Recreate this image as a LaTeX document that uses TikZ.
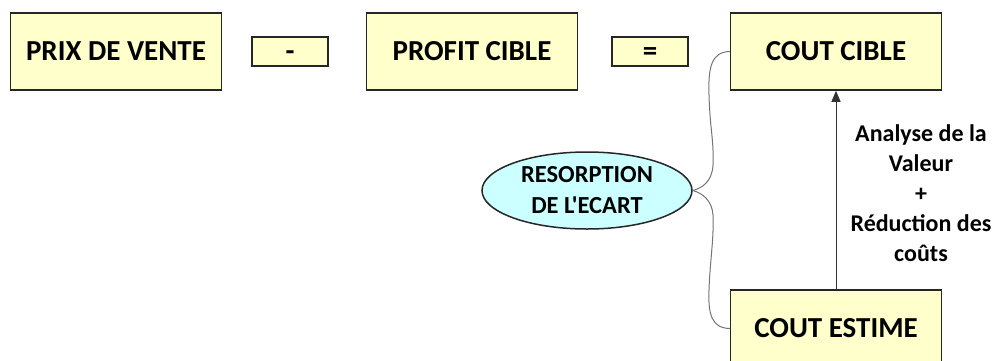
\documentclass[tikz,border=0pt]{standalone}
\usepackage{fontspec}
\newfontfamily\calfont{Carlito}
\usetikzlibrary{arrows.meta,shapes.geometric}
\definecolor{boxfill}{HTML}{FFFFCC}
\definecolor{ellfill}{HTML}{CCFFFF}
\tikzset{
  bigbox/.style={draw=black!85,line width=1.5pt,fill=boxfill,minimum width=211pt,minimum height=77pt,inner sep=0pt,font=\calfont\bfseries\fontsize{29}{32}\selectfont},
  opbox/.style={draw=black!85,line width=1.5pt,fill=boxfill,minimum width=76pt,minimum height=29pt,inner sep=0pt,text height=18.5pt,text depth=0pt,font=\calfont\bfseries\fontsize{29}{32}\selectfont},
  ellnode/.style={ellipse,draw=black!85,line width=1.5pt,fill=ellfill,minimum width=210pt,minimum height=77pt,inner sep=0pt,align=center,font=\calfont\bfseries\fontsize{24.5}{31}\selectfont},
  brace/.style={draw=black!55,line width=1pt},
  lbl/.style={align=center,font=\calfont\bfseries\fontsize{24}{30}\selectfont}
}
\begin{document}
\begin{tikzpicture}[x=1pt,y=-1pt]
\useasboundingbox (0,0) rectangle (994,360);
\begin{scope}
\clip (0,0) rectangle (994,360);
\node[bigbox] (pv) at (116,51.5) {PRIX DE VENTE};
\node[opbox] (minus) at (290,51.5) {-};
\node[bigbox] (pc) at (472,51.5) {PROFIT CIBLE};
\node[opbox] (eq) at (650,51.5) {=};
\node[bigbox] (cc) at (836,51.5) {COUT CIBLE};
\node[bigbox] (ce) at (836,328.5) {COUT ESTIME};
\node[ellnode] (ell) at (587,190.5) {RESORPTION\\DE L'ECART};
\draw[draw=black!80,line width=1pt,-{Triangle[length=11pt,width=9pt]}] (ce.north) -- (cc.south);
\node[lbl] (lab) at (921,193) {Analyse de la\\Valeur\\+\\Réduction des\\coûts};
\draw[brace] (cc.west) .. controls (712,52) and (708,66) .. (709,95) .. controls (710,130) and (714,140) .. (713,165) .. controls (712,182) and (702,188) .. (ell.east);
\draw[brace] (ell.east) .. controls (702,193) and (712,200) .. (713,215) .. controls (714,240) and (710,260) .. (709,290) .. controls (708,315) and (712,328) .. (ce.west);
\end{scope}
\end{tikzpicture}
\end{document}
